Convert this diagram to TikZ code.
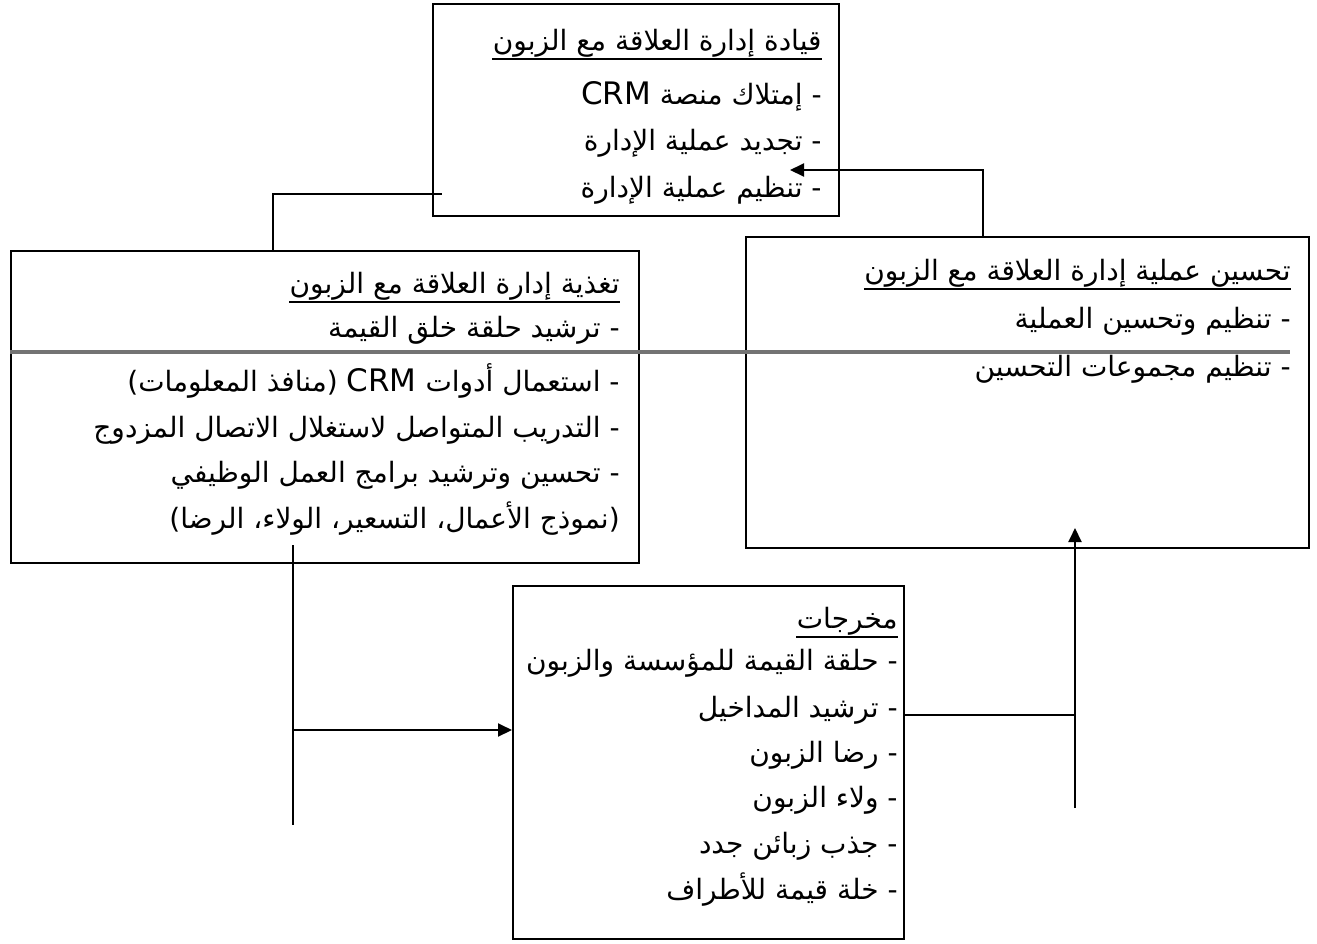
\documentclass[tikz,border=0pt]{standalone}
\usepackage{fontspec}
\usetikzlibrary{arrows.meta}
\TeXXeTstate=1
\newfontfamily\arabicfont[Script=Arabic]{DejaVu Sans}
\newcommand{\artxt}[1]{\beginR #1\endR}
\newcommand{\crm}{{\fontsize{15.5}{16}\selectfont CRM}}
\begin{document}
\begin{tikzpicture}[x=0.5pt,y=-0.5pt,
  box/.style={draw, line width=1pt, anchor=north west, inner sep=0pt},
  txt/.style={anchor=base east, inner sep=0pt, font=\arabicfont\fontsize{14}{16}\selectfont},
  ul/.style={line width=1pt},
  conn/.style={line width=1pt},
  arr/.style={conn, -{Triangle[length=7pt,width=6.5pt]}},
  grayline/.style={line width=1.6pt, draw=black!55}]
\useasboundingbox (0,0) rectangle (1317,943);
% boxes
\node[box, minimum width=203pt, minimum height=106pt] (topb) at (432,3) {};
\node[box, minimum width=314pt, minimum height=156pt] (leftb) at (10,250) {};
\node[box, minimum width=281.5pt, minimum height=155.5pt] (rightb) at (745,236) {};
\node[box, minimum width=195.5pt, minimum height=176.5pt] (botb) at (512,585) {};
% top box text
\node[txt] (t0) at (822,50) {\artxt{قيادة إدارة العلاقة مع الزبون}};
\node[txt] (t1) at (822,104) {\artxt{- إمتلاك منصة \crm}};
\node[txt] (t2) at (822,150) {\artxt{- تجديد عملية الإدارة}};
\node[txt] (t3) at (822,197) {\artxt{- تنظيم عملية الإدارة}};
% left box text
\node[txt] (l0) at (620,293) {\artxt{تغذية إدارة العلاقة مع الزبون}};
\node[txt] (l1) at (620,337) {\artxt{- ترشيد حلقة خلق القيمة}};
\node[txt] (l2) at (620,391) {\artxt{- استعمال أدوات \crm{} (منافذ المعلومات)}};
\node[txt] (l3) at (620,437) {\artxt{- التدريب المتواصل لاستغلال الاتصال المزدوج}};
\node[txt] (l4) at (620,482) {\artxt{- تحسين وترشيد برامج العمل الوظيفي}};
\node[txt] (l5) at (620,528) {\artxt{(نموذج الأعمال، التسعير، الولاء، الرضا)}};
% right box text
\node[txt] (r0) at (1291,280) {\artxt{تحسين عملية إدارة العلاقة مع الزبون}};
\node[txt] (r1) at (1291,328) {\artxt{- تنظيم وتحسين العملية}};
\node[txt] (r2) at (1291,376) {\artxt{- تنظيم مجموعات التحسين}};
% bottom box text
\node[txt] (b0) at (898,628) {\artxt{مخرجات}};
\node[txt] (b1) at (898,670) {\artxt{- حلقة القيمة للمؤسسة والزبون}};
\node[txt] (b2) at (898,717) {\artxt{- ترشيد المداخيل}};
\node[txt] (b3) at (898,762) {\artxt{- رضا الزبون}};
\node[txt] (b4) at (898,807) {\artxt{- ولاء الزبون}};
\node[txt] (b5) at (898,853) {\artxt{- جذب زبائن جدد}};
\node[txt] (b6) at (898,899) {\artxt{- خلة قيمة للأطراف}};
% title underlines
\foreach \t in {t0,l0,r0,b0}
  \draw[ul] ([yshift=-4.5pt]\t.base west) -- ([yshift=-4.5pt]\t.base east);
% gray separator
\coordinate (g2) at (1290,352);
\draw[grayline] (leftb.west |- g2) -- (g2);
% connectors
\coordinate (c1) at (273,194);
\coordinate (c1e) at (442,194);
\draw[conn] (c1 |- leftb.north) -- (c1) -- (c1e);
\coordinate (c2) at (983,170);
\coordinate (c2e) at (790,170);
\draw[arr] (c2 |- rightb.north) -- (c2) -- (c2e);
\coordinate (c3t) at (293,545);
\coordinate (c3b) at (293,825);
\coordinate (c3m) at (293,730);
\draw[conn] (c3t) -- (c3b);
\draw[arr] (c3m) -- (c3m -| botb.west);
\coordinate (c4) at (1075,715);
\coordinate (c4b) at (1075,808);
\coordinate (c4t) at (1075,528);
\draw[conn] (botb.east |- c4) -- (c4);
\draw[arr] (c4b) -- (c4t);
\end{tikzpicture}
\end{document}
